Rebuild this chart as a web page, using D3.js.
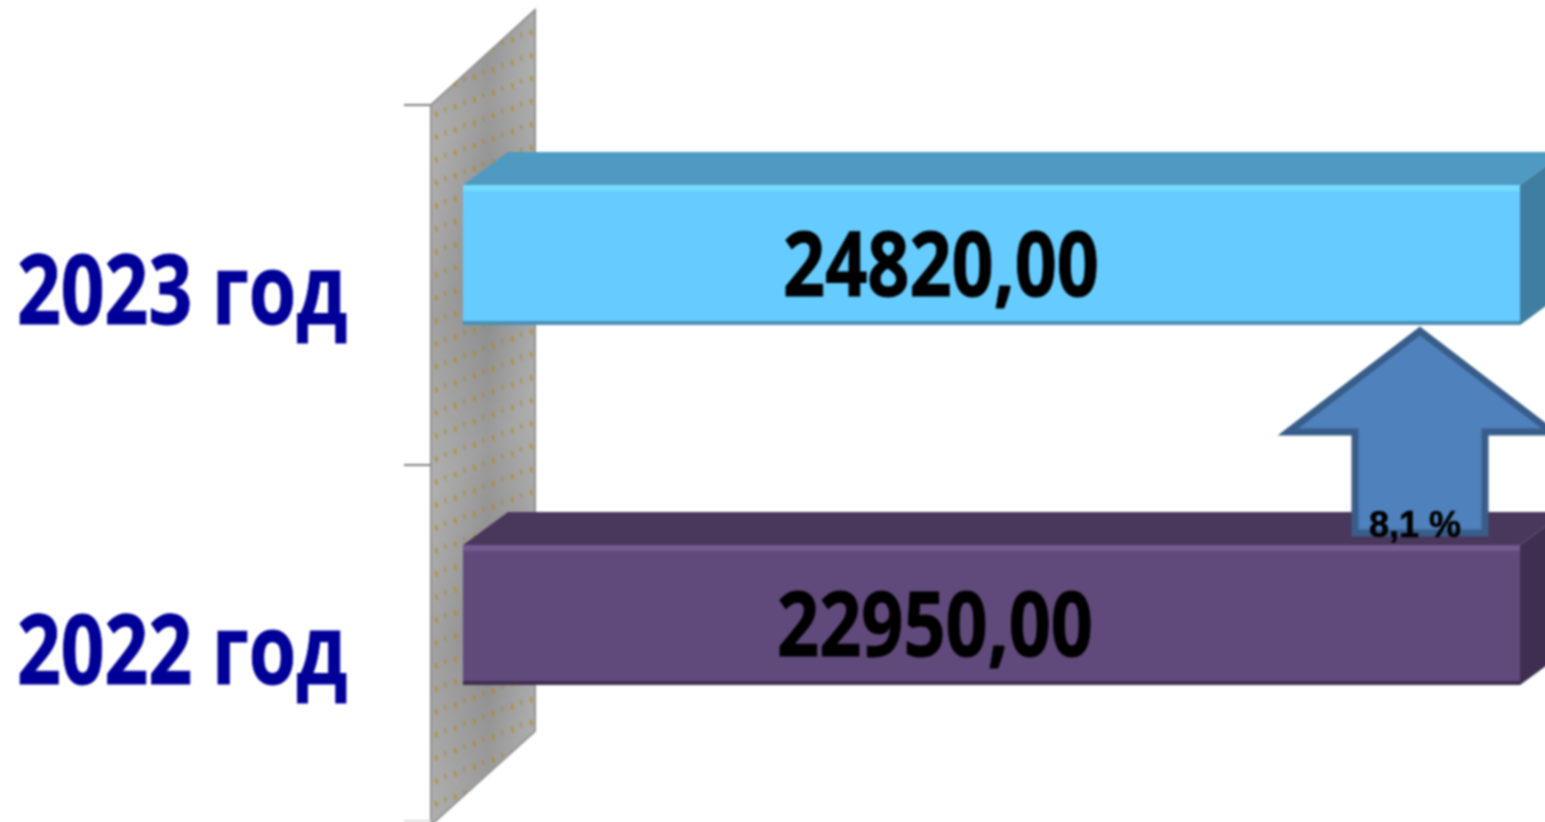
<!DOCTYPE html>
<html>
<head>
<meta charset="utf-8">
<script src="https://cdn.jsdelivr.net/npm/d3@7"></script>
<style>
  html, body { margin: 0; padding: 0; background: #fff; overflow: hidden; }
  svg { display: block; }
</style>
</head>
<body>
<div id="chart"></div>
<script>
const categories = ['2023 год', '2022 год'];
const values = [24820, 22950];
const valueLabels = ['24820,00', '22950,00'];
const axisMax = 20000; // both bars run past the axis end in the picture
const growthLabel = '8,1 %';

const width = 1545;
const height = 822;
const depthX = 45;
const depthY = -33;
const barH = 140;

const frontColor = ['#66ccff', '#604a7b'];
const topColor = ['#4f9ac2', '#4a375c'];
const sideColor = ['#3f7ea0', '#3e2f50'];
const shadeColor = ['#4a90b5', '#3f2e52'];
const glowColor = ['#74dcff', '#745a90'];

const svg = d3
  .select('#chart')
  .append('svg')
  .attr('width', width)
  .attr('height', height);

const defs = svg.append('defs');
defs.append('filter')
  .attr('id', 'soft')
  .attr('filterUnits', 'userSpaceOnUse')
  .attr('color-interpolation-filters', 'sRGB')
  .attr('x', 0).attr('y', 0).attr('width', width).attr('height', height)
  .append('feGaussianBlur')
  .attr('stdDeviation', 0.8);

const wallGrad = defs.append('linearGradient')
  .attr('id', 'wallGrad')
  .attr('gradientUnits', 'userSpaceOnUse')
  .attr('x1', 431).attr('y1', 0).attr('x2', 535).attr('y2', 0);
wallGrad.append('stop').attr('offset', '0%').attr('stop-color', '#a2a2a2');
wallGrad.append('stop').attr('offset', '55%').attr('stop-color', '#8a8a8a');
wallGrad.append('stop').attr('offset', '100%').attr('stop-color', '#a2a2a2');

const streakGrad = defs.append('linearGradient')
  .attr('id', 'streakGrad')
  .attr('gradientUnits', 'userSpaceOnUse')
  .attr('spreadMethod', 'reflect')
  .attr('x1', 431).attr('y1', 320).attr('x2', 515).attr('y2', 420);
streakGrad.append('stop').attr('offset', '0%').attr('stop-color', '#fff').attr('stop-opacity', 0);
streakGrad.append('stop').attr('offset', '100%').attr('stop-color', '#fff').attr('stop-opacity', 0.15);

const dots = defs.append('pattern')
  .attr('id', 'dots')
  .attr('patternUnits', 'userSpaceOnUse')
  .attr('width', 19).attr('height', 23)
  .attr('patternTransform', 'translate(431,105) skewY(40)');
dots.append('rect').attr('x', 4).attr('y', 2).attr('width', 2.5).attr('height', 5).attr('fill', '#b8860b').attr('opacity', 0.75);
dots.append('rect').attr('x', 13).attr('y', 13).attr('width', 2.5).attr('height', 5).attr('fill', '#a88428').attr('opacity', 0.55);

const x = d3.scaleLinear().domain([0, axisMax]).range([463, 1520]).clamp(true);
const y = d3.scaleBand().domain(categories).range([105, 825]);

const chart = svg.append('g').attr('filter', 'url(#soft)');

// back wall
const wallLeft = 431;
const wallRight = 535;
const wallPts = [
  [wallLeft, 105],
  [wallRight, 10],
  [wallRight, 731],
  [wallLeft, 825],
];
chart.append('polygon')
  .attr('points', wallPts.join(' '))
  .attr('fill', 'url(#wallGrad)')
  .attr('stroke', '#8a8a8a')
  .attr('stroke-width', 2);
chart.append('polygon')
  .attr('points', wallPts.join(' '))
  .attr('fill', 'url(#streakGrad)');
chart.append('polygon')
  .attr('points', wallPts.join(' '))
  .attr('fill', 'url(#dots)');

// category ticks, the last one sits on the bottom edge of the picture
const tickY = y.domain().map((d) => y(d)).concat(y.range()[1] - 4);
chart.append('g')
  .attr('transform', `translate(${wallLeft},0)`)
  .selectAll('line')
  .data(tickY)
  .join('line')
  .attr('x1', -27)
  .attr('x2', 0)
  .attr('y1', (d) => d)
  .attr('y2', (d) => d)
  .attr('stroke', (d, i) => (i === 2 ? '#dddddd' : '#808080'))
  .attr('stroke-width', 2);

// bars
const bars = chart.selectAll('.bar')
  .data(categories)
  .join('g')
  .attr('class', 'bar')
  .attr('transform', (d) => `translate(0,${y(d) + 80})`);

bars.append('polygon')
  .attr('points', (d, i) => {
    const x0 = x(0);
    const x1 = x(values[i]);
    return [[x0, 0], [x0 + depthX, depthY], [x1 + depthX, depthY], [x1, 0]].join(' ');
  })
  .attr('fill', (d, i) => topColor[i]);
bars.append('polygon')
  .attr('points', (d, i) => {
    const x1 = x(values[i]);
    return [[x1, 0], [x1 + depthX, depthY], [x1 + depthX, barH + depthY], [x1, barH]].join(' ');
  })
  .attr('fill', (d, i) => sideColor[i]);
bars.append('rect')
  .attr('x', x(0))
  .attr('y', 0)
  .attr('width', (d, i) => x(values[i]) - x(0))
  .attr('height', barH)
  .attr('fill', (d, i) => frontColor[i]);
bars.append('rect')
  .attr('x', x(0))
  .attr('y', 0)
  .attr('width', (d, i) => x(values[i]) - x(0))
  .attr('height', 6)
  .attr('fill', (d, i) => glowColor[i]);
bars.append('rect')
  .attr('x', x(0))
  .attr('y', barH - 4)
  .attr('width', (d, i) => x(values[i]) - x(0))
  .attr('height', 4)
  .attr('fill', (d, i) => shadeColor[i]);

// value labels, squeezed to the narrow look of the original face
bars.append('text')
  .attr('x', (d, i) => [783, 777][i])
  .attr('y', 111)
  .attr('textLength', 316)
  .attr('lengthAdjust', 'spacingAndGlyphs')
  .attr('font-family', '"Open Sans", "Noto Sans", sans-serif')
  .attr('font-weight', 700)
  .attr('font-size', 89)
  .attr('fill', '#000')
  .attr('stroke', '#000')
  .attr('stroke-width', 1)
  .text((d, i) => valueLabels[i]);

// category labels
chart.selectAll('.cat')
  .data(categories)
  .join('text')
  .attr('class', 'cat')
  .attr('x', 17)
  .attr('y', (d) => y(d) + 219)
  .attr('textLength', 330)
  .attr('lengthAdjust', 'spacingAndGlyphs')
  .attr('font-family', '"Open Sans", "Noto Sans", sans-serif')
  .attr('font-weight', 700)
  .attr('font-size', 97)
  .attr('fill', '#000099')
  .attr('stroke', '#000099')
  .attr('stroke-width', 1)
  .text((d) => d);

// growth arrow
const ax = 1420;
const arrowPts = [
  [ax, 331], [ax + 132, 432], [ax + 65, 432], [ax + 65, 533],
  [ax - 65, 533], [ax - 65, 432], [ax - 132, 432],
];
chart.append('polygon')
  .attr('points', arrowPts.join(' '))
  .attr('fill', '#4f81bd')
  .attr('stroke', '#385d8a')
  .attr('stroke-width', 7);
chart.append('text')
  .attr('x', 1415)
  .attr('y', 537)
  .attr('text-anchor', 'middle')
  .attr('font-family', '"Liberation Sans", Arial, sans-serif')
  .attr('font-weight', 700)
  .attr('font-size', 36)
  .attr('fill', '#000')
  .attr('stroke', '#000')
  .attr('stroke-width', 0.6)
  .text(growthLabel);
</script>
</body>
</html>
